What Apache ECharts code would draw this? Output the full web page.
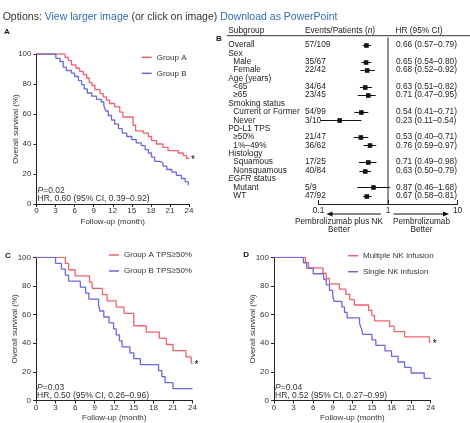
<!DOCTYPE html>
<html><head><meta charset="utf-8">
<script src="https://cdn.jsdelivr.net/npm/echarts@6/dist/echarts.min.js"></script>
<style>html,body{margin:0;padding:0;background:#fff}#c{width:470px;height:423px}</style>
</head><body><div id="c"></div>
<script>
const FONT = 'Arial, "Liberation Sans", sans-serif';
const RED = '#f0626c', BLUE = '#6a6ad8', INK = '#222', TXT = '#333';

// ---- Kaplan-Meier data (month, % surviving) ----
const aNames = ['Group A', 'Group B'];
const aRedT = [0, 4.5, 5.0, 5.5, 6.2, 6.8, 7.35, 7.9, 8.3, 8.7, 9.2, 10.0, 10.5, 11.0, 11.5, 12.3, 13.1, 13.6, 15.2, 15.6, 16.8, 17.6, 18.1, 18.9, 19.9, 20.7, 22.3, 23.1, 23.6, 24];
const aRedS = [100, 97.8, 95.6, 92.7, 90.5, 88.4, 86.2, 84.0, 81.0, 79.0, 76.3, 73.6, 71.4, 69.2, 67.0, 64.8, 61.3, 58.0, 52.5, 48.8, 47.3, 45.0, 42.2, 40.0, 37.8, 35.6, 34.0, 32.3, 30.5, 30.5];
const aBlueT = [0, 3.05, 3.7, 4.2, 4.7, 5.5, 6.0, 6.6, 7.1, 7.5, 8.0, 8.7, 9.45, 10.2, 10.6, 10.9, 11.3, 11.8, 12.3, 12.9, 13.5, 14.2, 15.0, 15.7, 16.5, 17.1, 17.6, 18.1, 18.6, 19.4, 19.9, 20.5, 21.3, 22.0, 22.8, 23.4, 23.9, 24];
const aBlueS = [100, 97.1, 95.0, 91.2, 89.0, 87.3, 85.0, 82.2, 79.6, 76.7, 74.0, 71.9, 69.7, 68.0, 65.3, 62.0, 59.0, 56.0, 53.2, 50.3, 47.3, 45.0, 42.9, 40.7, 38.9, 36.3, 34.0, 31.2, 28.4, 27.5, 25.3, 23.0, 21.3, 19.1, 17.0, 14.7, 12.5, 12.5];

const cNames = ['Group A TPS≥50%', 'Group B TPS≥50%'];
const cRedT = [0, 4.5, 5.0, 6.0, 8.2, 8.6, 10.2, 10.9, 12.3, 13.5, 15.0, 16.9, 18.9, 20.0, 21.0, 23.0, 23.8, 24];
const cRedS = [100, 95.7, 91.3, 87.0, 82.6, 78.3, 73.9, 69.6, 65.2, 60.9, 52.2, 47.8, 43.5, 39.1, 34.8, 30.4, 26.1, 26.1];
const cBlueT = [0, 3.0, 3.9, 4.5, 5.0, 6.8, 7.6, 8.1, 9.6, 9.8, 10.4, 11.2, 11.9, 12.3, 12.8, 13.2, 14.4, 15.0, 16.0, 18.8, 19.3, 19.8, 21.0, 24];
const cBlueS = [100, 95.8, 91.7, 87.5, 83.3, 79.2, 75.0, 70.8, 66.7, 62.5, 58.3, 54.2, 50.0, 45.8, 41.7, 37.5, 33.3, 29.2, 25.0, 20.8, 16.7, 12.5, 8.3, 8.3];

const dNames = ['Multiple NK infusion', 'Single NK infusion'];
const dRedT = [0, 4.8, 5.3, 7.5, 8.0, 8.5, 10.0, 11.0, 11.6, 12.3, 14.5, 15.0, 15.4, 17.7, 18.4, 20.0, 23.8, 24];
const dRedS = [100, 96.3, 92.6, 88.9, 85.2, 81.5, 77.8, 74.1, 70.4, 66.7, 63.0, 59.3, 55.6, 51.9, 48.1, 44.4, 40.7, 40.7];
const dBlueT = [0, 4.5, 5.0, 6.0, 7.6, 8.0, 8.5, 9.0, 9.2, 10.4, 10.8, 11.2, 13.1, 13.4, 13.6, 15.0, 15.6, 17.0, 18.0, 19.0, 20.0, 21.0, 23.0, 24];
const dBlueS = [100, 96.2, 92.3, 88.5, 84.6, 80.8, 76.9, 73.1, 69.2, 65.4, 61.5, 57.7, 53.8, 50.0, 46.2, 42.3, 38.5, 34.6, 30.8, 26.9, 23.1, 19.2, 15.4, 15.4];

const pVals = ['0.02', '0.03', '0.04'];
const hrVals = ['0.60', '0.50', '0.52'];
const ciVals = ['0.39–0.92', '0.26–0.96', '0.27–0.99'];

// ---- Forest plot data ----
const subLabels = ['Overall', 'Sex', 'Male', 'Female', 'Age (years)', '<65', '≥65', 'Smoking status', 'Current or Former', 'Never', 'PD-L1 TPS', '≥50%', '1%–49%', 'Histology', 'Squamous', 'Nonsquamous', 'EGFR status', 'Mutant', 'WT'];
const subLevel = [0, 0, 1, 1, 0, 1, 1, 0, 1, 1, 0, 1, 1, 0, 1, 1, 0, 1, 1];
const events = ['57/109', '', '35/67', '22/42', '', '34/64', '23/45', '', '54/99', '3/10', '', '21/47', '36/62', '', '17/25', '40/84', '', '5/9', '47/92'];
const hr = [0.66, null, 0.65, 0.68, null, 0.63, 0.71, null, 0.54, 0.23, null, 0.53, 0.76, null, 0.71, 0.63, null, 0.87, 0.67];
const lo = [0.57, null, 0.54, 0.52, null, 0.51, 0.47, null, 0.41, 0.11, null, 0.40, 0.59, null, 0.49, 0.50, null, 0.46, 0.58];
const hi = [0.79, null, 0.80, 0.92, null, 0.82, 0.95, null, 0.71, 0.54, null, 0.71, 0.97, null, 0.98, 0.79, null, 1.68, 0.81];
const refLine = [1];
const forestTicks = [0.1, 1, 10];

const chart = echarts.init(document.getElementById('c'), null, {renderer: 'canvas'});

const kmGrids = [
  {left: 36.5, top: 54, width: 152.5, height: 150},
  {left: 36, top: 257.3, width: 156.5, height: 143.4},
  {left: 274, top: 257.3, width: 156.7, height: 143.4}
];
const grids = kmGrids.concat([
  {left: 318.5, top: 40.8, width: 117, height: 159},    // 3 forest marks
  {left: 318.5, top: 37.5, width: 139, height: 166.5},  // 4 forest visible axis
  {left: 309, top: 40.8, width: 83, height: 159}        // 5 text columns
]);

function kmX(i) {
  return {gridIndex: i, type: 'value', min: 0, max: 24, interval: 3,
    axisLine: {lineStyle: {color: INK, width: 1}},
    axisTick: {show: true, length: 3, lineStyle: {color: INK}},
    axisLabel: {fontSize: 8, color: TXT, margin: 3, fontFamily: FONT},
    splitLine: {show: false},
    name: 'Follow-up (month)', nameLocation: 'middle', nameGap: 13.5, nameMoveOverlap: false,
    nameTextStyle: {fontSize: 8, color: TXT, fontFamily: FONT}};
}
function kmY(i) {
  return {gridIndex: i, type: 'value', min: 0, max: 100, interval: 20,
    axisLine: {show: true, lineStyle: {color: INK, width: 1}},
    axisTick: {show: true, length: 3, lineStyle: {color: INK}},
    axisLabel: {fontSize: 8, color: TXT, margin: 5, fontFamily: FONT},
    splitLine: {show: false},
    name: 'Overall survival (%)', nameLocation: 'middle', nameGap: 17, nameMoveOverlap: false,
    nameTextStyle: {fontSize: 8, color: TXT, fontFamily: FONT}};
}
function km(name, t, s, color, gi, star) {
  const o = {type: 'line', name, xAxisIndex: gi, yAxisIndex: gi, step: 'end', symbol: 'none',
    data: t.map((v, i) => [v, s[i]]), lineStyle: {color, width: 1.3}, itemStyle: {color},
    silent: true, animation: false, z: 3};
  if (star) o.endLabel = {show: true, formatter: '*', color: '#000', fontSize: 10, distance: 2, offset: [0, 2], fontFamily: FONT};
  return o;
}

const rowIds = subLabels.map((_, i) => String(i));
const richBase = {fontSize: 8.3, fontFamily: FONT, color: '#222'};
function catY(gi, position, margin, fmt) {
  return {gridIndex: gi, type: 'category', data: rowIds, inverse: true, position,
    axisLine: {show: false}, axisTick: {show: false}, splitLine: {show: false},
    axisLabel: {interval: 0, align: 'left', margin, fontSize: 8.3, fontFamily: FONT, color: '#222', formatter: fmt,
      rich: {n: richBase, ind: Object.assign({padding: [0, 0, 0, 5]}, richBase),
             i: Object.assign({fontStyle: 'italic'}, richBase)}}};
}
function subFmt(v, i) {
  let t = subLabels[i];
  if (t.indexOf('EGFR') === 0) return '{i|EGFR}{n|' + t.slice(4) + '}';
  return subLevel[i] ? '{ind|' + t + '}' : '{n|' + t + '}';
}
const hrText = hr.map((h, i) => h == null ? '' : h.toFixed(2) + ' (' + lo[i].toFixed(2) + '–' + hi[i].toFixed(2) + ')');

const forestData = [];
hr.forEach((h, i) => { if (h != null) forestData.push([h, lo[i], hi[i], i]); });

const xAxes = [kmX(0), kmX(1), kmX(2),
  {gridIndex: 3, type: 'log', logBase: 10, min: 0.1, max: 10, show: false},
  {gridIndex: 4, type: 'log', logBase: 10, min: forestTicks[0], max: forestTicks[2],
    axisLine: {show: true, lineStyle: {color: INK, width: 1}},
    axisTick: {show: true, inside: true, length: 4, lineStyle: {color: INK}},
    minorTick: {show: false},
    axisLabel: {fontSize: 8.3, color: '#222', margin: 3, fontFamily: FONT},
    splitLine: {show: false}},
  {gridIndex: 5, type: 'value', show: false}
];
const yAxes = [kmY(0), kmY(1), kmY(2),
  catY(3, 'left', 90.2, subFmt),
  catY(5, 'right', 4, (v, i) => hrText[i]),
  {gridIndex: 4, type: 'value', min: 0, max: 1, show: false},
  catY(5, 'left', 4, (v, i) => events[i])
];

const series = [
  km(aNames[0], aRedT, aRedS, RED, 0, true),
  km(aNames[1], aBlueT, aBlueS, BLUE, 0, false),
  km(cNames[0], cRedT, cRedS, RED, 1, true),
  km(cNames[1], cBlueT, cBlueS, BLUE, 1, false),
  km(dNames[0], dRedT, dRedS, RED, 2, true),
  km(dNames[1], dBlueT, dBlueS, BLUE, 2, false),
  {type: 'custom', xAxisIndex: 3, yAxisIndex: 3, data: forestData, silent: true, animation: false,
    dimensions: ['hr', 'lo', 'hi', 'row'], encode: {x: [0, 1, 2], y: 3},
    renderItem: function (params, api) {
      const r = api.value(3);
      const c = api.coord([api.value(0), r]);
      const l = api.coord([api.value(1), r]);
      const h = api.coord([api.value(2), r]);
      const s = 4.6;
      const y = Math.round(c[1]) + 0.5;
      return {type: 'group', children: [
        {type: 'line', shape: {x1: l[0], y1: y, x2: h[0], y2: y}, style: {stroke: '#111', lineWidth: 1}},
        {type: 'rect', shape: {x: c[0] - s / 2, y: y - s / 2, width: s, height: s}, style: {fill: '#111'}}
      ]};
    }},
  {type: 'line', xAxisIndex: 4, yAxisIndex: 5, symbol: 'none', silent: true, animation: false,
    data: [[refLine[0], 0], [refLine[0], 1]], lineStyle: {color: INK, width: 1}}
];

function legend(names, left, top) {
  return {data: names, orient: 'vertical', left, top, padding: 0, itemWidth: 10, itemHeight: 1.5, itemGap: 6,
    icon: 'rect', selectedMode: false, textStyle: {fontSize: 8, color: TXT, lineHeight: 10, fontFamily: FONT}};
}

function txt(text, x, y, opts) {
  return {type: 'text', silent: true, style: Object.assign({text, x, y, fill: TXT, fontSize: 8.5, fontFamily: FONT,
    verticalAlign: 'middle', align: 'left'}, opts || {})};
}
const pItal = {p: {fontStyle: 'italic', fontSize: 8.5, fontFamily: FONT, fill: TXT}, n: {fontSize: 8.5, fontFamily: FONT, fill: TXT}};
const statPos = [[37.5, 191, 198.5], [37, 387.7, 395.2], [275, 387.7, 395.2]];
const graphics = [
  txt('{d|Options: }{l|View larger image}{d| (or click on image) }{l|Download as PowerPoint}', 2.7, 16.7,
    {rich: {d: {fontSize: 10.5, fontFamily: FONT, fill: '#333'}, l: {fontSize: 10.5, fontFamily: FONT, fill: '#2f6fae'}}}),
  txt('A', 4, 32.2, {fontWeight: 'bold', fontSize: 8, fill: '#111'}),
  txt('B', 216, 38.4, {fontWeight: 'bold', fontSize: 8, fill: '#111'}),
  txt('C', 5, 255.8, {fontWeight: 'bold', fontSize: 8, fill: '#111'}),
  txt('D', 243.3, 254.3, {fontWeight: 'bold', fontSize: 8, fill: '#111'}),
  txt('Subgroup', 228.3, 31, {fontSize: 8.3, fill: '#222'}),
  txt('{n|Events/Patients (}{i|n}{n|)}', 305, 31, {rich: {n: {fontSize: 8.3, fontFamily: FONT, fill: '#222'}, i: {fontSize: 8.3, fontFamily: FONT, fill: '#222', fontStyle: 'italic'}}}),
  txt('HR (95% CI)', 395.5, 31, {fontSize: 8.3, fill: '#222'}),
  {type: 'line', silent: true, shape: {x1: 226.7, y1: 35.7, x2: 470, y2: 35.7}, style: {stroke: '#333', lineWidth: 1}},
  {type: 'line', silent: true, shape: {x1: 381, y1: 214, x2: 330, y2: 214}, style: {stroke: '#111', lineWidth: 1}},
  {type: 'polygon', silent: true, shape: {points: [[326.5, 214], [332.5, 211.5], [332.5, 216.5]]}, style: {fill: '#111'}},
  {type: 'line', silent: true, shape: {x1: 393.5, y1: 214, x2: 445, y2: 214}, style: {stroke: '#111', lineWidth: 1}},
  {type: 'polygon', silent: true, shape: {points: [[449, 214], [443, 211.5], [443, 216.5]]}, style: {fill: '#111'}},
  txt('Pembrolizumab plus NK', 339, 222, {align: 'center', fontSize: 8.2, fill: '#222'}),
  txt('Better', 339, 229.8, {align: 'center', fontSize: 8.2, fill: '#222'}),
  txt('Pembrolizumab', 421.5, 222, {align: 'center', fontSize: 8.2, fill: '#222'}),
  txt('Better', 421.5, 229.8, {align: 'center', fontSize: 8.2, fill: '#222'})
];
statPos.forEach((p, i) => {
  graphics.push(txt('{p|P}{n|=' + pVals[i] + '}', p[0], p[1], {rich: pItal}));
  graphics.push(txt('HR, ' + hrVals[i] + ' (95% CI, ' + ciVals[i] + ')', p[0], p[2]));
});

chart.setOption({
  backgroundColor: '#fff',
  animation: false,
  textStyle: {fontFamily: FONT},
  grid: grids,
  xAxis: xAxes,
  yAxis: yAxes,
  legend: [legend(aNames, 141.7, 52.3), legend(cNames, 109, 250), legend(dNames, 348, 250.7)],
  series,
  graphic: graphics
});
</script></body></html>
